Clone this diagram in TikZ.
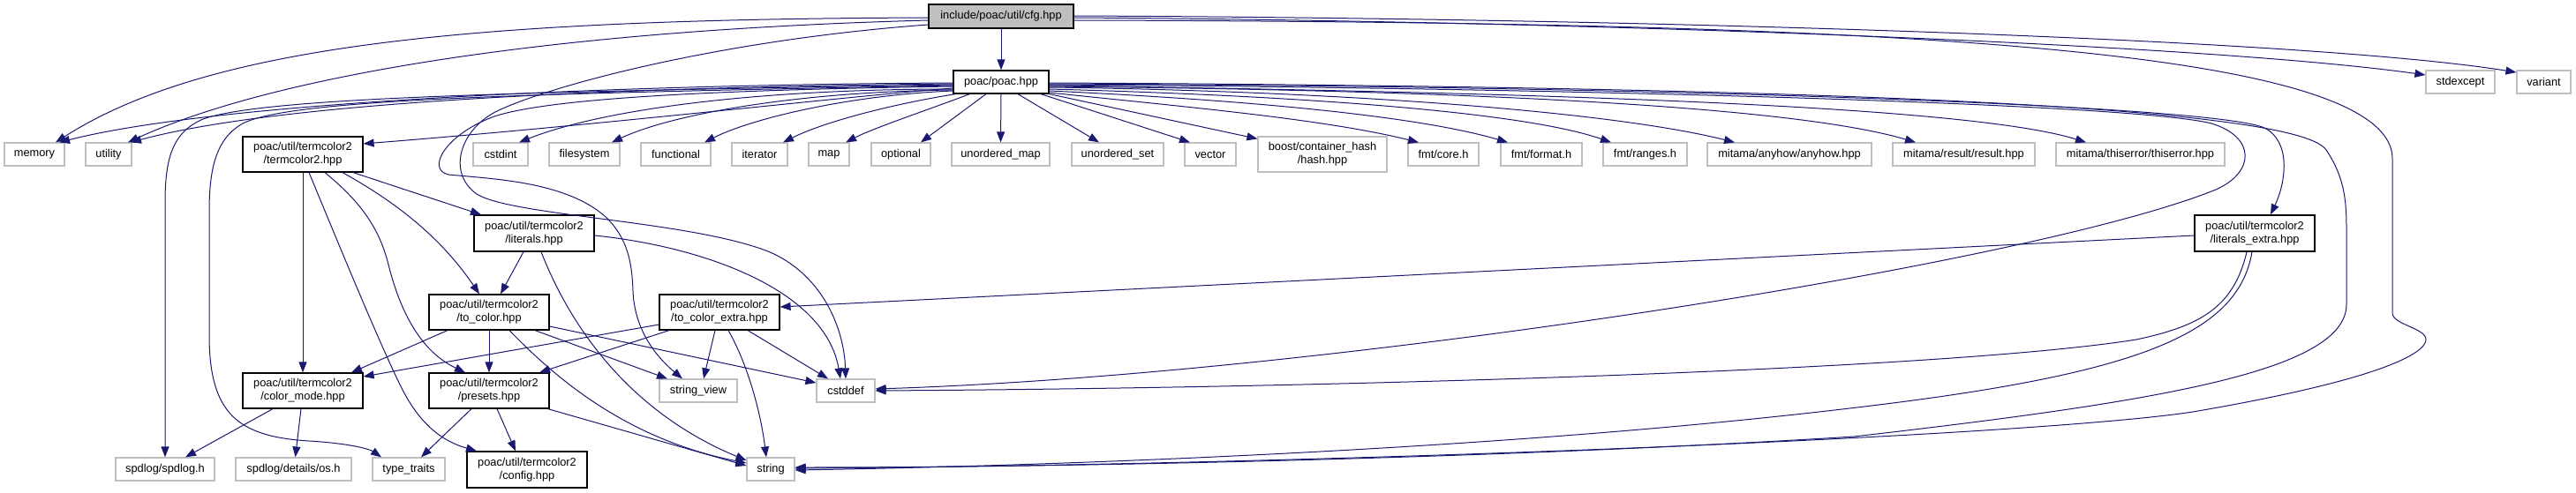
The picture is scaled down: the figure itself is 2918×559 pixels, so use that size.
\documentclass[tikz,border=0pt]{standalone}
\usepackage{fontspec}
\setmainfont{Liberation Sans}
\usetikzlibrary{arrows.meta}
\definecolor{edgeblue}{HTML}{191970}
\definecolor{boxgray}{HTML}{BFBFBF}
\begin{document}
\begin{tikzpicture}[x=1pt,y=-1pt,
  base/.style={rectangle, inner sep=0pt, align=center, font=\fontsize{12.8}{15}\selectfont, line width=1.2pt},
  gbox/.style={base, draw=boxgray, fill=white, minimum height=26pt},
  bbox/.style={base, draw=black, fill=white, minimum height=40pt},
  rbox/.style={base, draw=black, fill=boxgray, minimum height=27pt},
  dep/.style={draw=edgeblue, line width=1pt, -{Triangle[length=12pt,width=9pt]}},
]
\useasboundingbox (0,0) rectangle (2918,559);

% nodes
\node[rbox, minimum width=164pt] (cfg) at (1134,18.5) {include/poac/util/cfg.hpp};
\node[bbox, minimum width=108pt, minimum height=26pt] (poac) at (1134,93) {poac/poac.hpp};

\node[gbox, minimum width=68pt] (memory) at (39,175) {memory};
\node[gbox, minimum width=52pt] (utility) at (123,175) {utility};
\node[bbox, minimum width=136pt] (tc2) at (343,175) {poac/util/termcolor2\\/termcolor2.hpp};
\node[gbox, minimum width=62pt] (cstdint) at (567,175) {cstdint};
\node[gbox, minimum width=80pt] (filesystem) at (662,175) {filesystem};
\node[gbox, minimum width=79pt] (functional) at (765.5,175) {functional};
\node[gbox, minimum width=63pt] (iterator) at (860.5,175) {iterator};
\node[gbox, minimum width=46pt] (map) at (939,175) {map};
\node[gbox, minimum width=67pt] (optional) at (1020.5,175) {optional};
\node[gbox, minimum width=111pt] (umap) at (1133.5,175) {unordered\_map};
\node[gbox, minimum width=104pt] (uset) at (1266,175) {unordered\_set};
\node[gbox, minimum width=58pt] (vector) at (1371,175) {vector};
\node[gbox, minimum width=146pt, minimum height=40pt] (boost) at (1498,175) {boost/container\_hash\\/hash.hpp};
\node[gbox, minimum width=80pt] (fcore) at (1635,175) {fmt/core.h};
\node[gbox, minimum width=92pt] (fformat) at (1746,175) {fmt/format.h};
\node[gbox, minimum width=95pt] (franges) at (1863.5,175) {fmt/ranges.h};
\node[gbox, minimum width=186pt] (anyhow) at (2027,175) {mitama/anyhow/anyhow.hpp};
\node[gbox, minimum width=161pt] (result) at (2224.5,175) {mitama/result/result.hpp};
\node[gbox, minimum width=191pt] (thiserror) at (2424.5,175) {mitama/thiserror/thiserror.hpp};
\node[gbox, minimum width=78pt] (stdexcept) at (2787,93) {stdexcept};
\node[gbox, minimum width=61pt] (variant) at (2881.5,93) {variant};

\node[bbox, minimum width=136pt, minimum height=41pt] (literals) at (605,264.5) {poac/util/termcolor2\\/literals.hpp};
\node[bbox, minimum width=136pt, minimum height=41pt] (litextra) at (2554,264.5) {poac/util/termcolor2\\/literals\_extra.hpp};
\node[bbox, minimum width=136pt] (tocolor) at (554,354) {poac/util/termcolor2\\/to\_color.hpp};
\node[bbox, minimum width=136pt] (tocolorx) at (815,354) {poac/util/termcolor2\\/to\_color\_extra.hpp};
\node[bbox, minimum width=136pt] (colormode) at (343,443) {poac/util/termcolor2\\/color\_mode.hpp};
\node[bbox, minimum width=136pt] (presets) at (554,443) {poac/util/termcolor2\\/presets.hpp};
\node[gbox, minimum width=88pt] (strview) at (791,443) {string\_view};
\node[gbox, minimum width=66pt] (cstddef) at (958,443) {cstddef};

\node[gbox, minimum width=112pt] (spdlog) at (187,532) {spdlog/spdlog.h};
\node[gbox, minimum width=131pt] (os) at (332.5,532) {spdlog/details/os.h};
\node[gbox, minimum width=82pt] (typetraits) at (463,532) {type\_traits};
\node[bbox, minimum width=136pt, minimum height=41pt] (config) at (597,532.5) {poac/util/termcolor2\\/config.hpp};
\node[gbox, minimum width=54pt] (string) at (873,532) {string};

% edges from cfg
\draw[dep] (cfg) -- (poac);
\draw[dep] ([yshift=-1.5pt]cfg.west) .. controls (550,22) and (240,48) .. ([xshift=24pt]memory.north);
\draw[dep] ([yshift=-4.5pt]cfg.west) .. controls (600,35) and (300,90) .. ([xshift=22pt]utility.north);
\draw[dep] ([yshift=-9.5pt]cfg.west) .. controls (820,45) and (630,95) .. (565,125)
   .. controls (522,145) and (505,195) .. (540,220) .. controls (580,245) and (780,250) .. (870,285)
   .. controls (930,310) and (956,370) .. (cstddef.north);
\draw[dep] ([yshift=-1.5pt]cfg.east) .. controls (1800,24) and (2500,50) .. ([yshift=8pt]stdexcept.west);
\draw[dep] ([yshift=0.5pt]cfg.east) .. controls (1900,21) and (2620,45) .. ([yshift=11pt]variant.west);
\draw[dep] ([yshift=-4.5pt]cfg.east) .. controls (2100,25) and (2710,50) .. (2710,180) -- (2710,355)
   .. controls (2710,368) and (2748,372) .. (2748,385) .. controls (2748,400) and (2700,430) .. (2484,467)
   .. controls (2300,495) and (1500,527) .. ([yshift=1pt]string.east);

% edges from poac, left side
\draw[dep] ([yshift=-1pt]poac.west) .. controls (700,96) and (250,115) .. ([xshift=28pt]memory.north);
\draw[dep] ([yshift=-2pt]poac.west) .. controls (700,99) and (320,115) .. ([xshift=25pt]utility.north);
\draw[dep] ([yshift=-3pt]poac.west) .. controls (600,104) and (300,110) .. (230,135)
   .. controls (195,150) and (187,180) .. (187,230) -- (spdlog.north);
\draw[dep] ([yshift=-4pt]poac.west) .. controls (600,106) and (330,112) .. (275,140)
   .. controls (245,157) and (237,190) .. (237,240) -- (237,380)
   .. controls (237,470) and (270,495) .. (350,500) .. controls (400,503) and (420,510) .. ([xshift=-31pt]typetraits.north);
\draw[dep] ([yshift=-5pt]poac.west) .. controls (800,102) and (620,112) .. (560,132)
   .. controls (505,152) and (482,192) .. (508,198) .. controls (560,203) and (640,206) .. (685,245)
   .. controls (712,270) and (716,300) .. (717,330) .. controls (719,380) and (750,410) .. ([xshift=-18pt]strview.north);
\draw[dep] ([yshift=-7pt]poac.west) .. controls (950,110) and (700,140) .. ([yshift=12pt]tc2.east);
\draw[dep] ([yshift=-8pt]poac.west) .. controls (850,101) and (680,125) .. ([xshift=21pt]cstdint.north);
\draw[dep] ([yshift=-9pt]poac.west) .. controls (900,104) and (760,130) .. ([xshift=31pt]filesystem.north);
\draw[dep] ([yshift=-10pt]poac.west) .. controls (960,108) and (850,135) .. ([xshift=32.5pt]functional.north);
\draw[dep] ([xshift=3pt]poac.south west) .. controls (1000,120) and (930,140) .. ([xshift=26.5pt]iterator.north);
\draw[dep] ([xshift=19pt]poac.south west) .. controls (1050,125) and (990,145) .. ([xshift=19pt]map.north);
\draw[dep] ([xshift=-17pt]poac.south) -- ([xshift=22.5pt]optional.north);
\draw[dep] (poac.south) -- (umap.north);
% edges from poac, right side
\draw[dep] ([xshift=19pt]poac.south) -- ([xshift=-21pt]uset.north);
\draw[dep] ([xshift=45pt]poac.south) -- ([xshift=-23pt]vector.north);
\draw[dep] (poac.south east) -- ([yshift=-3pt]boost.north west);
\draw[dep] ([yshift=-12pt]poac.east) .. controls (1350,122) and (1500,135) .. ([xshift=-28pt]fcore.north);
\draw[dep] ([yshift=-10pt]poac.east) .. controls (1400,113) and (1600,130) .. ([xshift=-38pt]fformat.north);
\draw[dep] ([yshift=-8pt]poac.east) .. controls (1450,108) and (1720,125) .. ([xshift=-38.5pt]franges.north);
\draw[dep] ([yshift=-6pt]poac.east) .. controls (1500,103) and (1820,125) .. ([xshift=-62pt]anyhow.north);
\draw[dep] ([yshift=-5pt]poac.east) .. controls (1650,102) and (2030,120) .. ([xshift=-54.5pt]result.north);
\draw[dep] ([yshift=-4pt]poac.east) .. controls (1750,105) and (2230,120) .. ([xshift=-61.5pt]thiserror.north);
\draw[dep] ([yshift=-3pt]poac.east) .. controls (1800,100) and (2420,118) .. (2505,140)
   .. controls (2555,155) and (2555,195) .. (2510,215) .. controls (2300,300) and (1500,425) .. ([yshift=2pt]cstddef.east);
\draw[dep] ([yshift=-2pt]poac.east) .. controls (1900,98) and (2510,120) .. (2565,145)
   .. controls (2595,160) and (2590,205) .. ([xshift=18pt]litextra.north);
\draw[dep] ([yshift=-1pt]poac.east) .. controls (2000,98) and (2600,118) .. (2635,170)
   .. controls (2655,200) and (2658,225) .. (2658,260) -- (2658,345)
   .. controls (2658,420) and (2450,455) .. (2100,495) .. controls (1700,520) and (1200,530) .. ([yshift=2pt]string.east);

% termcolor2.hpp
\draw[dep] (tc2.south) -- (colormode.north);
\draw[dep] ([xshift=7pt]tc2.south) .. controls (385,280) and (430,390) .. (455,440)
   .. controls (475,480) and (500,500) .. ([xshift=-57pt]config.north);
\draw[dep] ([xshift=25pt]tc2.south) .. controls (410,230) and (430,260) .. (440,300)
   .. controls (455,360) and (480,400) .. ([xshift=-27pt]presets.north);
\draw[dep] ([xshift=45pt]tc2.south) .. controls (450,230) and (500,270) .. ([xshift=-11pt]tocolor.north);
\draw[dep] ([xshift=57pt]tc2.south) -- ([xshift=-60pt]literals.north);

% literals.hpp
\draw[dep] ([xshift=-12pt]literals.south) -- ([xshift=13pt]tocolor.north);
\draw[dep] ([xshift=8pt]literals.south) .. controls (650,380) and (720,470) .. ([yshift=10pt]string.west);
\draw[dep] ([yshift=-2.5pt]literals.east) .. controls (800,280) and (935,330) .. ([xshift=-6pt]cstddef.north);

% to_color.hpp
\draw[dep] ([xshift=-47pt]tocolor.south) -- ([xshift=55pt]colormode.north);
\draw[dep] (tocolor.south) -- (presets.north);
\draw[dep] ([xshift=52pt]tocolor.south) -- ([xshift=-35pt]strview.north);
\draw[dep] ([yshift=-16pt]tocolor.east) -- ([yshift=9pt]cstddef.west);
\draw[dep] ([xshift=23pt]tocolor.south) .. controls (640,440) and (720,500) .. ([yshift=7pt]string.west);

% to_color_extra.hpp
\draw[dep] ([yshift=-14pt]tocolorx.west) -- ([yshift=16pt]colormode.east);
\draw[dep] ([xshift=-57pt]tocolorx.south) -- ([xshift=57pt]presets.north);
\draw[dep] ([xshift=-5pt]tocolorx.south) -- ([xshift=6pt]strview.north);
\draw[dep] ([xshift=10pt]tocolorx.south) .. controls (848,415) and (862,470) .. ([xshift=-5pt]string.north);
\draw[dep] ([xshift=32pt]tocolorx.south) -- ([xshift=-20pt]cstddef.north);

% color_mode.hpp
\draw[dep] ([xshift=-34pt]colormode.south) -- ([xshift=23pt]spdlog.north);
\draw[dep] ([xshift=-2pt]colormode.south) -- ([xshift=2pt]os.north);

% presets.hpp
\draw[dep] ([xshift=-20pt]presets.south) -- ([xshift=14pt]typetraits.north);
\draw[dep] ([xshift=9pt]presets.south) -- ([xshift=-13pt]config.north);
\draw[dep] ([xshift=-2pt]presets.south east) -- ([yshift=4pt]string.west);

% literals_extra.hpp
\draw[dep] ([yshift=-2.5pt]litextra.west) -- ([yshift=6pt]tocolorx.east);
\draw[dep] ([xshift=-9pt]litextra.south) .. controls (2530,350) and (2490,370) .. (2420,385)
   .. controls (2200,420) and (1500,440) .. (cstddef.east);
\draw[dep] ([xshift=-3pt]litextra.south) .. controls (2535,380) and (2420,425) .. (2095,463)
   .. controls (1700,510) and (1200,528) .. ([yshift=-1pt]string.east);
\end{tikzpicture}
\end{document}
